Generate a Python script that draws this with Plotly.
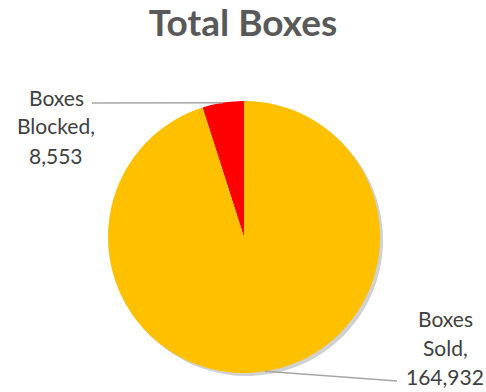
import math
import plotly.graph_objects as go

# Data
categories = ["Boxes Blocked", "Boxes Sold"]
values = [8553, 164932]
colors = ["#FF0000", "#FFC000"]

W, H = 486, 392
CX, CY, R = 244, 237, 136  # pie centre and radius in pixels


def px_x(x):
    return x / W


def px_y(y):
    return 1 - y / H


def domain(dx=0, dy=0):
    return dict(
        x=[px_x(CX - R + dx), px_x(CX + R + dx)],
        y=[px_y(CY + R + dy), px_y(CY - R + dy)],
    )


total = sum(values)
# start the first slice so that it ends at 12 o'clock, lying just left of it
start_rot = -values[0] / total * 360

fig = go.Figure()

# soft drop shadow under the pie
fig.add_trace(go.Pie(
    labels=categories, values=values, sort=False, direction="clockwise",
    rotation=start_rot,
    marker=dict(colors=["rgba(0,0,0,0.18)"] * len(values), line=dict(width=0)),
    textinfo="none", hoverinfo="skip", showlegend=False, domain=domain(3, 3),
))

fig.add_trace(go.Pie(
    labels=categories, values=values, sort=False, direction="clockwise",
    rotation=start_rot,
    marker=dict(colors=colors, line=dict(width=0)),
    textinfo="none", showlegend=False, domain=domain(),
))

# slice mid-angles (degrees counterclockwise from 12 o'clock, as drawn)
mids = []
acc = 0
for v in values:
    frac = v / total
    mids.append((acc + frac / 2) * 360)
    acc += frac


def edge_point(angle_deg):
    a = math.radians(angle_deg)
    return CX - R * math.sin(a), CY - R * math.cos(a)


# label block centres and where the leader line meets the label
label_pos = [(56, 126, 92, 103), (445, 347, 397, 381)]
line_gap = 29

shapes = []
annotations = []
for name, v, mid, (lx, ly, ex, ey) in zip(categories, values, mids, label_pos):
    words = name.split(" ")
    lines = [words[0], " ".join(words[1:]) + ",", f"{v:,}"]
    for i, t in enumerate(lines):
        yy = ly + (i - (len(lines) - 1) / 2) * line_gap
        annotations.append(dict(
            x=px_x(lx), y=px_y(yy), xref="paper", yref="paper", text=t,
            showarrow=False, xanchor="center", yanchor="middle",
            font=dict(family="Lato", size=21, color="#404040"),
        ))
    sx, sy = edge_point(mid)
    shapes.append(dict(
        type="line", xref="paper", yref="paper",
        x0=px_x(ex), y0=px_y(ey), x1=px_x(sx), y1=px_y(sy),
        line=dict(color="#A6A6A6", width=1.5),
    ))

fig.update_layout(
    width=W, height=H,
    margin=dict(l=0, r=0, t=0, b=0),
    paper_bgcolor="white", plot_bgcolor="white",
    title=dict(
        text="<b>Total Boxes</b>", x=0.5, xanchor="center",
        y=1 - 23 / H, yanchor="middle", yref="container",
        font=dict(family="Lato", size=37, color="#595959"),
    ),
    shapes=shapes,
    annotations=annotations,
)

fig.write_html("out.html")
